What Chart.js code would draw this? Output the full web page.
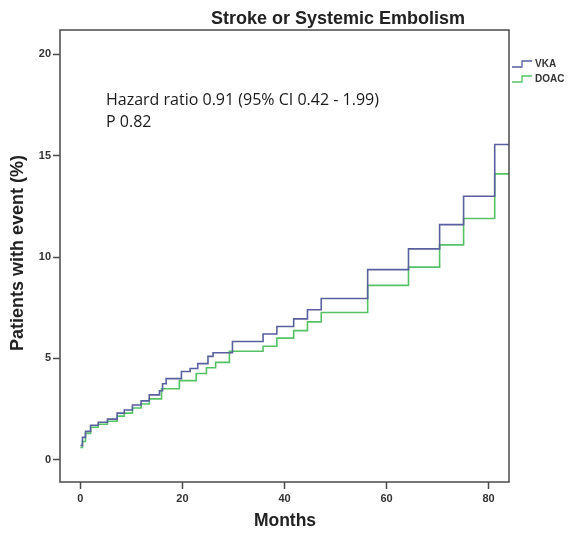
<!DOCTYPE html>
<html>
<head>
<meta charset="utf-8">
<script src="https://cdn.jsdelivr.net/npm/chart.js@4/dist/chart.umd.min.js"></script>
<style>
  body { margin: 0; background: #fff; }
  canvas { display: block; }
</style>
</head>
<body>
<canvas id="km" width="573" height="540"></canvas>
<script>
// Kaplan-Meier step data (months, cumulative % with event)
const vkaMonths = [0, 0.4, 1.0, 2.0, 3.5, 5.3, 7.2, 8.6, 10.2, 11.9, 13.5, 15.5, 16.1, 16.8, 19.8, 21.5, 23.0, 25.0, 26.0, 29.8, 35.8, 38.5, 41.8, 44.5, 47.2, 56.3, 64.3, 70.4, 75.1, 81.2, 84];
const vkaValues = [0.7, 1.1, 1.4, 1.7, 1.85, 2.0, 2.3, 2.45, 2.7, 2.9, 3.2, 3.4, 3.75, 4.0, 4.35, 4.5, 4.74, 5.1, 5.28, 5.83, 6.2, 6.57, 6.95, 7.4, 7.95, 9.38, 10.4, 11.6, 13.0, 15.55, 15.55];
const doacMonths = [0, 0.4, 1.0, 2.0, 3.5, 5.3, 7.2, 8.6, 10.2, 11.9, 13.5, 15.9, 19.4, 22.7, 24.7, 26.5, 29.2, 35.8, 38.5, 41.8, 44.5, 47.2, 56.3, 64.3, 70.4, 75.1, 81.2, 84];
const doacValues = [0.6, 0.9, 1.3, 1.6, 1.75, 1.9, 2.15, 2.3, 2.55, 2.75, 3.0, 3.5, 3.9, 4.25, 4.54, 4.8, 5.35, 5.6, 6.0, 6.37, 6.8, 7.26, 8.6, 9.5, 10.6, 11.9, 14.1, 14.1];

const xTicks = [0, 20, 40, 60, 80];
const yTicks = [0, 5, 10, 15, 20];
const seriesNames = ['VKA', 'DOAC'];
const seriesColors = ['#5a5f9e', '#55c265'];

const chartTitle = 'Stroke or Systemic Embolism';
const xTitle = 'Months';
const yTitle = 'Patients with event (%)';
const noteLines = ['Hazard ratio 0.91 (95% CI 0.42 - 1.99)', 'P 0.82'];

const frameColor = '#4a4a4a';

function toPoints(xs, ys) {
  return xs.map((x, i) => ({ x: x, y: ys[i] }));
}

// Draws frame, titles, note and the step legend
const decorations = {
  id: 'decorations',
  afterDraw(chart) {
    const ctx = chart.ctx;
    const a = chart.chartArea;
    ctx.save();

    // box round the plot
    ctx.strokeStyle = frameColor;
    ctx.lineWidth = 1.5;
    ctx.strokeRect(a.left, a.top, a.right - a.left, a.bottom - a.top);

    ctx.fillStyle = '#222';
    ctx.textAlign = 'center';
    ctx.textBaseline = 'middle';

    ctx.font = 'bold 18px "Liberation Sans", Arial, sans-serif';
    ctx.fillText(chartTitle, 338, 19);

    ctx.font = 'bold 17.5px "Liberation Sans", Arial, sans-serif';
    ctx.fillText(xTitle, 285, 521);

    ctx.save();
    ctx.translate(18, 253);
    ctx.rotate(-Math.PI / 2);
    ctx.font = 'bold 18px "Liberation Sans", Arial, sans-serif';
    ctx.fillText(yTitle, 0, 0);
    ctx.restore();

    // hazard ratio note
    ctx.textAlign = 'left';
    ctx.fillStyle = '#1a1a1a';
    ctx.font = '16px "Open Sans", sans-serif';
    noteLines.forEach((line, i) => ctx.fillText(line, 106, 100 + i * 22));

    // legend with small step samples
    ctx.font = 'bold 10px "Liberation Sans", Arial, sans-serif';
    seriesNames.forEach((name, i) => {
      const y = 64 + i * 15;
      ctx.strokeStyle = seriesColors[i];
      ctx.lineWidth = 1.3;
      ctx.beginPath();
      ctx.moveTo(512, y + 3);
      ctx.lineTo(522, y + 3);
      ctx.lineTo(522, y - 3);
      ctx.lineTo(532, y - 3);
      ctx.stroke();
      ctx.fillStyle = '#333';
      ctx.fillText(name, 535, y);
    });

    ctx.restore();
  }
};

const ctx = document.getElementById('km').getContext('2d');
new Chart(ctx, {
  type: 'line',
  data: {
    datasets: [
      {
        label: seriesNames[0],
        data: toPoints(vkaMonths, vkaValues),
        borderColor: seriesColors[0],
        borderWidth: 1.6,
        stepped: 'before',
        pointRadius: 0,
        fill: false
      },
      {
        label: seriesNames[1],
        data: toPoints(doacMonths, doacValues),
        borderColor: seriesColors[1],
        borderWidth: 1.6,
        stepped: 'before',
        pointRadius: 0,
        fill: false
      }
    ]
  },
  options: {
    responsive: false,
    animation: false,
    layout: { padding: { left: 0, right: 64, top: 30, bottom: 0 } },
    plugins: {
      legend: { display: false },
      title: { display: false },
      tooltip: { enabled: false }
    },
    scales: {
      x: {
        type: 'linear',
        min: -4,
        max: 84,
        afterBuildTicks: axis => { axis.ticks = xTicks.map(v => ({ value: v })); },
        afterFit: axis => { axis.height = 58; },
        grid: { drawOnChartArea: false, drawTicks: true, tickLength: 7, tickColor: frameColor, tickWidth: 1.5 },
        border: { display: false },
        ticks: {
          padding: 3,
          color: '#333',
          font: { family: '"Liberation Sans", Arial, sans-serif', size: 11, weight: 'bold' }
        }
      },
      y: {
        type: 'linear',
        min: -1.1,
        max: 21.2,
        afterBuildTicks: axis => { axis.ticks = yTicks.map(v => ({ value: v })); },
        afterFit: axis => { axis.width = 60; },
        grid: { drawOnChartArea: false, drawTicks: true, tickLength: 7, tickColor: frameColor, tickWidth: 1.5 },
        border: { display: false },
        ticks: {
          padding: 2,
          color: '#333',
          font: { family: '"Liberation Sans", Arial, sans-serif', size: 11, weight: 'bold' }
        }
      }
    }
  },
  plugins: [decorations]
});
</script>
</body>
</html>
